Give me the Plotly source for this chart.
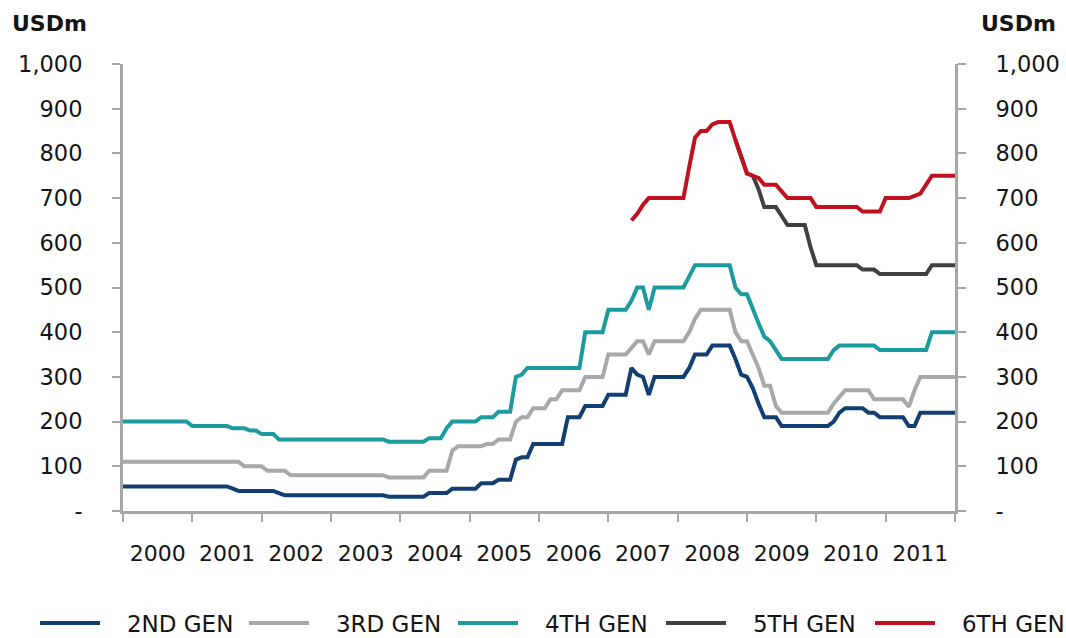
import plotly.graph_objects as go

# Monthly observations, Jan 2000 through Jan 2012 (145 points)
MONTHS = [2000 + i / 12 for i in range(145)]

YEARS = ["2000", "2001", "2002", "2003", "2004", "2005",
         "2006", "2007", "2008", "2009", "2010", "2011"]

Y_TICKS = [0, 100, 200, 300, 400, 500, 600, 700, 800, 900, 1000]
Y_TICK_TEXT = ["-", "100", "200", "300", "400", "500",
               "600", "700", "800", "900", "1,000"]

N = None

GEN2 = [
    55, 55, 55, 55, 55, 55, 55, 55, 55, 55, 55, 55,            # 2000
    55, 55, 55, 55, 55, 55, 55, 50, 45, 45, 45, 45,            # 2001
    45, 45, 45, 40, 35, 35, 35, 35, 35, 35, 35, 35,            # 2002
    35, 35, 35, 35, 35, 35, 35, 35, 35, 35, 32, 32,            # 2003
    32, 32, 32, 32, 32, 40, 40, 40, 40, 50, 50, 50,            # 2004
    50, 50, 62, 62, 62, 70, 70, 70, 115, 120, 120, 150,        # 2005
    150, 150, 150, 150, 150, 210, 210, 210, 235, 235, 235, 235,  # 2006
    260, 260, 260, 260, 320, 305, 300, 260, 300, 300, 300, 300,  # 2007
    300, 300, 320, 350, 350, 350, 370, 370, 370, 370, 340, 305,  # 2008
    300, 275, 240, 210, 210, 210, 190, 190, 190, 190, 190, 190,  # 2009
    190, 190, 190, 200, 220, 230, 230, 230, 230, 220, 220, 210,  # 2010
    210, 210, 210, 210, 190, 190, 220, 220, 220, 220, 220, 220,  # 2011
    220,
]

GEN3 = [
    110, 110, 110, 110, 110, 110, 110, 110, 110, 110, 110, 110,
    110, 110, 110, 110, 110, 110, 110, 110, 110, 100, 100, 100,
    100, 90, 90, 90, 90, 80, 80, 80, 80, 80, 80, 80,
    80, 80, 80, 80, 80, 80, 80, 80, 80, 80, 75, 75,
    75, 75, 75, 75, 75, 90, 90, 90, 90, 135, 145, 145,
    145, 145, 145, 150, 150, 160, 160, 160, 200, 210, 210, 230,
    230, 230, 250, 250, 270, 270, 270, 270, 300, 300, 300, 300,
    350, 350, 350, 350, 365, 380, 380, 350, 380, 380, 380, 380,
    380, 380, 400, 430, 450, 450, 450, 450, 450, 450, 400, 380,
    380, 350, 320, 280, 280, 235, 220, 220, 220, 220, 220, 220,
    220, 220, 220, 240, 255, 270, 270, 270, 270, 270, 250, 250,
    250, 250, 250, 250, 233, 270, 300, 300, 300, 300, 300, 300,
    300,
]

GEN4 = [
    200, 200, 200, 200, 200, 200, 200, 200, 200, 200, 200, 200,
    190, 190, 190, 190, 190, 190, 190, 185, 185, 185, 180, 180,
    172, 172, 172, 160, 160, 160, 160, 160, 160, 160, 160, 160,
    160, 160, 160, 160, 160, 160, 160, 160, 160, 160, 155, 155,
    155, 155, 155, 155, 155, 163, 163, 163, 185, 200, 200, 200,
    200, 200, 210, 210, 210, 222, 222, 222, 300, 305, 320, 320,
    320, 320, 320, 320, 320, 320, 320, 320, 400, 400, 400, 400,
    450, 450, 450, 450, 470, 500, 500, 450, 500, 500, 500, 500,
    500, 500, 525, 550, 550, 550, 550, 550, 550, 550, 500, 485,
    485, 450, 420, 390, 380, 360, 340, 340, 340, 340, 340, 340,
    340, 340, 340, 360, 370, 370, 370, 370, 370, 370, 370, 360,
    360, 360, 360, 360, 360, 360, 360, 360, 400, 400, 400, 400,
    400,
]

GEN5 = [
    N, N, N, N, N, N, N, N, N, N, N, N,
    N, N, N, N, N, N, N, N, N, N, N, N,
    N, N, N, N, N, N, N, N, N, N, N, N,
    N, N, N, N, N, N, N, N, N, N, N, N,
    N, N, N, N, N, N, N, N, N, N, N, N,
    N, N, N, N, N, N, N, N, N, N, N, N,
    N, N, N, N, N, N, N, N, N, N, N, N,
    N, N, N, N, N, N, N, N, N, N, N, N,
    N, N, N, N, N, N, N, N, N, N, 830, 790,
    755, 750, 720, 680, 680, 680, 660, 640, 640, 640, 640, 590,
    550, 550, 550, 550, 550, 550, 550, 550, 540, 540, 540, 530,
    530, 530, 530, 530, 530, 530, 530, 530, 550, 550, 550, 550,
    550,
]

GEN6 = [
    N, N, N, N, N, N, N, N, N, N, N, N,
    N, N, N, N, N, N, N, N, N, N, N, N,
    N, N, N, N, N, N, N, N, N, N, N, N,
    N, N, N, N, N, N, N, N, N, N, N, N,
    N, N, N, N, N, N, N, N, N, N, N, N,
    N, N, N, N, N, N, N, N, N, N, N, N,
    N, N, N, N, N, N, N, N, N, N, N, N,
    N, N, N, N, 650, 665, 685, 700, 700, 700, 700, 700,
    700, 700, 770, 835, 850, 850, 865, 870, 870, 870, 830, 790,
    755, 750, 745, 730, 730, 730, 715, 700, 700, 700, 700, 700,
    680, 680, 680, 680, 680, 680, 680, 680, 670, 670, 670, 670,
    700, 700, 700, 700, 700, 705, 710, 730, 750, 750, 750, 750,
    750,
]

# name, values, colour, legend group box
SERIES = [
    ("2ND GEN", GEN2, "#123f73", "legend"),
    ("3RD GEN", GEN3, "#a7a8aa", "legend"),
    ("4TH GEN", GEN4, "#1b9aa0", "legend"),
    ("5TH GEN", GEN5, "#404040", "legend2"),
    ("6TH GEN", GEN6, "#c0111f", "legend2"),
]

FONT = "DejaVu Sans"
TEXT_COLOR = "#141414"
AXIS_COLOR = "#a6a6a6"

W, H = 1066, 638
L, R, T, B = 123, 111, 64, 127
PW, PH = W - L - R, H - T - B


def px_x(px):
    return (px - L) / PW


def px_y(py):
    return (H - B - py) / PH


fig = go.Figure()
for name, vals, color, leg in SERIES:
    fig.add_trace(go.Scatter(
        x=MONTHS, y=vals, name="\u00a0\u00a0\u00a0" + name, mode="lines",
        line=dict(color=color, width=4),
        connectgaps=False, legend=leg,
    ))

# companion trace so the right-hand value axis is drawn
fig.add_trace(go.Scatter(x=MONTHS, y=GEN2, yaxis="y2", mode="lines",
                         line=dict(width=0, color="rgba(0,0,0,0)"),
                         showlegend=False, hoverinfo="skip"))

yaxis_common = dict(
    range=[0, 1000], tickvals=Y_TICKS, ticktext=Y_TICK_TEXT,
    ticks="outside", ticklen=8, tickwidth=2, tickcolor=AXIS_COLOR,
    showline=True, linecolor=AXIS_COLOR, linewidth=3,
    showgrid=False, zeroline=False,
    tickfont=dict(family=FONT, size=22.5, color=TEXT_COLOR),
    ticklabelstandoff=25,
)

legend_common = dict(
    orientation="h", xanchor="left",
    y=px_y(623), yanchor="middle",
    entrywidth=134, entrywidthmode="pixels", itemwidth=60,
    font=dict(family=FONT, size=23, color=TEXT_COLOR),
    bgcolor="rgba(0,0,0,0)",
)

fig.update_layout(
    width=W, height=H,
    margin=dict(l=L, r=R, t=T, b=B, autoexpand=False),
    paper_bgcolor="white", plot_bgcolor="white",
    font=dict(family=FONT, size=22, color=TEXT_COLOR),
    xaxis=dict(
        range=[2000, 2012],
        tickvals=[int(y) + 0.5 for y in YEARS], ticktext=YEARS,
        ticks="", showline=True, linecolor=AXIS_COLOR, linewidth=3,
        showgrid=False, zeroline=False,
        tickfont=dict(family=FONT, size=22, color=TEXT_COLOR),
        ticklabelstandoff=21,
        minor=dict(tickvals=list(range(2000, 2013)), ticks="outside",
                   ticklen=8, tickwidth=2, tickcolor=AXIS_COLOR,
                   showgrid=False),
    ),
    yaxis=dict(**yaxis_common, side="left"),
    yaxis2=dict(**yaxis_common, side="right", overlaying="y"),
    showlegend=True,
    legend=dict(**legend_common, x=px_x(35)),
    legend2=dict(**legend_common, x=px_x(661)),
    annotations=[
        dict(text="<b>USDm</b>", xref="paper", yref="paper",
             x=px_x(89), y=px_y(24), xanchor="right", yanchor="middle",
             showarrow=False, font=dict(family=FONT, size=22, color=TEXT_COLOR)),
        dict(text="<b>USDm</b>", xref="paper", yref="paper",
             x=px_x(979), y=px_y(24), xanchor="left", yanchor="middle",
             showarrow=False, font=dict(family=FONT, size=22, color=TEXT_COLOR)),
    ],
)

fig.write_html("out.html")
